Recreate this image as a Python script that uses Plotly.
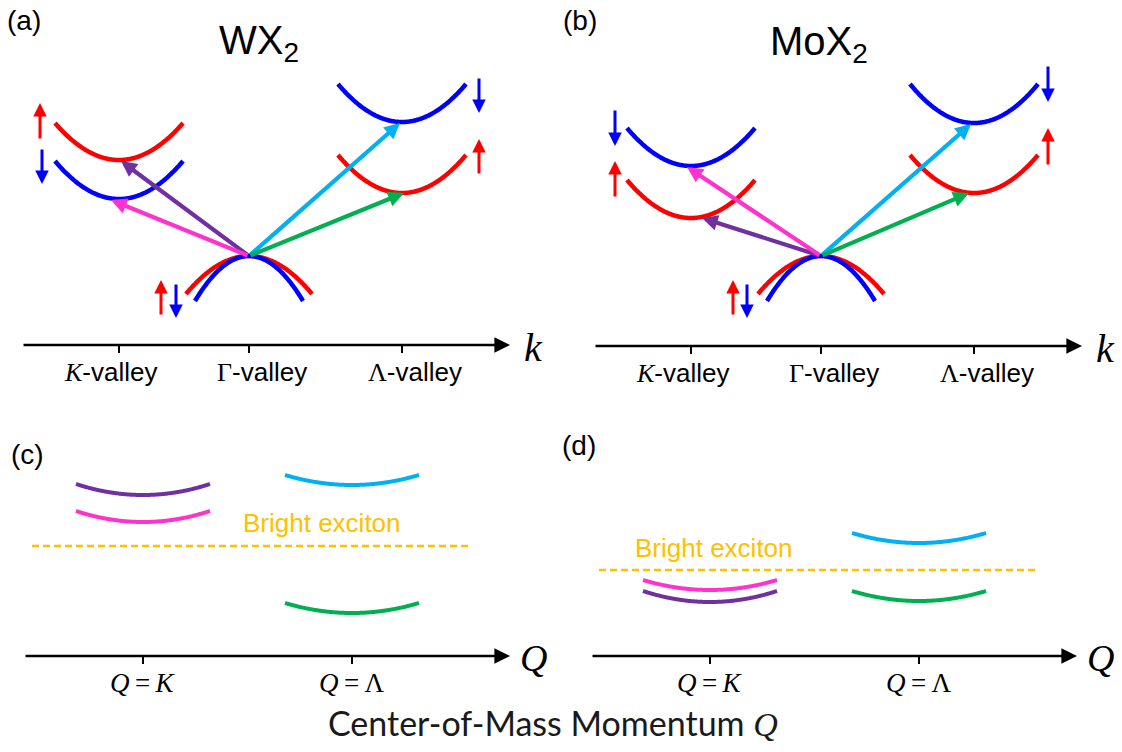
import numpy as np
import plotly.graph_objects as go

W, H = 1122, 752

# ---------------- band-structure panels (a) WX2, (b) MoX2 ----------------
VALLEYS = ["K", "Γ", "Λ"]
VALLEY_K = [-130, 0, 153]          # crystal momentum of the valleys (arb. units)
K_AXIS = [-227, 261]               # extent of the k axis

SPIN_COLOR = {"up": "#FF0000", "down": "#0000FF"}

# conduction bands: valley, spin, band minimum, energy at the window edge
A_COND_VALLEY = ["K", "K", "Λ", "Λ"]
A_COND_SPIN = ["up", "down", "down", "up"]
A_COND_EMIN = [185, 146, 223, 152]
A_COND_EEDGE = [222, 184, 261, 190]

B_COND_VALLEY = ["K", "K", "Λ", "Λ"]
B_COND_SPIN = ["down", "up", "down", "up"]
B_COND_EMIN = [180, 128, 223, 153]
B_COND_EEDGE = [218, 166, 262, 191]
COND_HALF_WIDTH = 64

# valence bands at Γ: spin, top energy, half width, energy at window edge
VAL_SPIN = ["up", "down"]
A_VAL_ETOP = [89, 89]
B_VAL_ETOP = [90, 90]
VAL_HALF_WIDTH = [63, 54]
A_VAL_EEDGE = [51, 44]
B_VAL_EEDGE = [52, 45]

# momentum-indirect transitions from the Γ valence maximum
TRANS_NAMES = ["purple", "magenta", "cyan", "green"]
TRANS_COLOR = ["#7030A0", "#FF33CC", "#00B0F0", "#00B050"]
A_TRANS_K = [-128, -138, 151, 155]
A_TRANS_E = [184, 145, 222, 152]
B_TRANS_K = [-119, -134, 150, 148]
B_TRANS_E = [128, 179, 222, 153]

# spin markers: spin, momentum, tail energy, head energy
A_SPIN_S = ["up", "down", "up", "down", "down", "up"]
A_SPIN_K = [-209, -207, -88, -73, 230, 230]
A_SPIN_E0 = [205, 197, 29, 62, 268, 170]
A_SPIN_E1 = [242, 161, 65, 27, 232, 206]

B_SPIN_S = ["down", "up", "up", "down", "down", "up"]
B_SPIN_K = [-206, -206, -88, -74, 227, 227]
B_SPIN_E0 = [237, 148, 30, 63, 281, 180]
B_SPIN_E1 = [200, 185, 66, 28, 244, 218]

# ---------------- exciton panels (c), (d) ----------------
Q_NAMES = ["K", "Λ"]
Q_POS = [143, 352]
Q_AXIS = [24, 510]
EXC_HALF_WIDTH = 67

EXC_KIND = ["purple", "magenta", "cyan", "green"]
EXC_VALLEY = ["K", "K", "Λ", "Λ"]
C_EXC_EMIN = [161, 134, 171, 43]
C_EXC_EEDGE = [172, 145, 181, 53]
D_EXC_EMIN = [54, 66, 113, 55]
D_EXC_EEDGE = [65, 76, 123, 65]

BRIGHT_SPAN = [32, 468]
C_BRIGHT_E = 110
D_BRIGHT_E = 86

GOLD = "#FFC000"
SANS = "Liberation Sans, Arial, sans-serif"
SERIF = "Liberation Serif, DejaVu Serif, serif"
CAL = "Lato, Open Sans, sans-serif"

fig = go.Figure()


def parabola(center, e0, e_edge, half):
    x = np.linspace(center - half, center + half, 121)
    return x, e0 + (e_edge - e0) * ((x - center) / half) ** 2


def add_line(x, y, color, width, ax, dash=None):
    fig.add_trace(go.Scatter(
        x=x, y=y, mode="lines", xaxis="x" + ax, yaxis="y" + ax,
        line=dict(color=color, width=width, dash=dash, shape="spline"),
        hoverinfo="skip", showlegend=False))


def add_arrow(x0, y0, x1, y1, ax, color, width, size):
    fig.add_annotation(
        x=x1, y=y1, ax=x0, ay=y0, xref="x" + ax, yref="y" + ax,
        axref="x" + ax, ayref="y" + ax, text="", showarrow=True,
        arrowhead=2, arrowsize=size, arrowwidth=width, arrowcolor=color,
        standoff=0, startstandoff=0)


def text(x, y, ax, s, size, family=SANS, color="black", xshift=0, xanchor="center"):
    fig.add_annotation(
        x=x, y=y, xref="x" + ax, yref="y" + ax, text=s, showarrow=False,
        font=dict(size=size, family=family, color=color),
        xanchor=xanchor, yanchor="middle", xshift=xshift)


def band_panel(ax, cond, val, trans, spins, tag, title, tag_pos, title_pos):
    vk = dict(zip(VALLEYS, VALLEY_K))
    # valence bands
    for s, et, hw, ee in zip(VAL_SPIN, val[0], VAL_HALF_WIDTH, val[1]):
        x, y = parabola(vk["Γ"], et, ee, hw)
        add_line(x, y, SPIN_COLOR[s], 4.5, ax)
    # conduction bands
    for v, s, emin, ee in zip(*cond):
        x, y = parabola(vk[v], emin, ee, COND_HALF_WIDTH)
        add_line(x, y, SPIN_COLOR[s], 4.5, ax)
    # k axis with ticks
    add_arrow(K_AXIS[0], 0, K_AXIS[1], 0, ax, "black", 2.5, 1.25)
    for v in VALLEYS:
        add_line([vk[v], vk[v]], [0, -8], "black", 2, ax)
    # spin markers
    for s, k, e0, e1 in zip(*spins):
        add_arrow(k, e0, k, e1, ax, SPIN_COLOR[s], 3, 0.9)
    # transitions
    etop = val[0][0]
    for c, k, e in zip(TRANS_COLOR, trans[0], trans[1]):
        add_arrow(vk["Γ"], etop, k, e, ax, c, 4.2, 0.75)
    # labels
    labels = {
        "K": f'<i><span style="font-family:{SERIF}">K</span></i>-valley',
        "Γ": f'<span style="font-family:{SERIF}">Γ</span>-valley',
        "Λ": f'<span style="font-family:{SERIF}">Λ</span>-valley',
    }
    shifts = {"K": -9, "Γ": 13, "Λ": 13}
    for v in VALLEYS:
        text(vk[v], -27, ax, labels[v], 26, xshift=shifts[v])
    text(K_AXIS[1] + 23, -2, ax, "<i>k</i>", 40, family=SERIF)
    text(tag_pos[0], tag_pos[1], ax, tag, 28)
    text(title_pos[0], title_pos[1], ax, title, 40)


band_panel("", (A_COND_VALLEY, A_COND_SPIN, A_COND_EMIN, A_COND_EEDGE),
           (A_VAL_ETOP, A_VAL_EEDGE), (A_TRANS_K, A_TRANS_E),
           (A_SPIN_S, A_SPIN_K, A_SPIN_E0, A_SPIN_E1),
           "(a)", "WX<sub>2</sub>", (-225, 325), (10, 302))
band_panel("2", (B_COND_VALLEY, B_COND_SPIN, B_COND_EMIN, B_COND_EEDGE),
           (B_VAL_ETOP, B_VAL_EEDGE), (B_TRANS_K, B_TRANS_E),
           (B_SPIN_S, B_SPIN_K, B_SPIN_E0, B_SPIN_E1),
           "(b)", "MoX<sub>2</sub>", (-241, 326), (-2, 302))


def exciton_panel(ax, emin, eedge, bright_e, tag, tag_pos, bright_label_pos):
    qp = dict(zip(Q_NAMES, Q_POS))
    cmap = dict(zip(TRANS_NAMES, TRANS_COLOR))
    for kind, v, e0, e1 in zip(EXC_KIND, EXC_VALLEY, emin, eedge):
        x, y = parabola(qp[v], e0, e1, EXC_HALF_WIDTH)
        add_line(x, y, cmap[kind], 4, ax)
    add_line(BRIGHT_SPAN, [bright_e, bright_e], GOLD, 2.5, ax, dash="7px,4px")
    text(bright_label_pos[0], bright_label_pos[1], ax, "Bright exciton", 26, color=GOLD)
    add_arrow(Q_AXIS[0], 0, Q_AXIS[1], 0, ax, "black", 2.5, 1.25)
    for v in Q_NAMES:
        add_line([qp[v], qp[v]], [0, -8], "black", 2, ax)
        rhs = f"<i>{v}</i>" if v == "K" else v
        text(qp[v], -27, ax, f"<i>Q</i>\u2009=\u2009{rhs}", 27, family=SERIF)
    text(Q_AXIS[1] + 23, -2, ax, "<i>Q</i>", 38, family=SERIF)
    text(tag_pos[0], tag_pos[1], ax, tag, 28)


exciton_panel("3", C_EXC_EMIN, C_EXC_EEDGE, C_BRIGHT_E, "(c)", (27, 201), (322, 133))
exciton_panel("4", D_EXC_EMIN, D_EXC_EEDGE, D_BRIGHT_E, "(d)", (12, 210), (147, 108))

fig.add_annotation(
    x=553 / W, y=1 - 722 / H, xref="paper", yref="paper", showarrow=False,
    text=f'Center-of-Mass Momentum <i><span style="font-family:{SERIF}">Q</span></i>',
    font=dict(size=34, family=CAL, color="#1a1a1a"), xanchor="center", yanchor="middle")

ytop = 1 - 390 / H
ax_style = dict(visible=False, fixedrange=True, showgrid=False, zeroline=False)
fig.update_layout(
    width=W, height=H, margin=dict(l=0, r=0, t=0, b=0),
    paper_bgcolor="white", plot_bgcolor="white", showlegend=False,
    xaxis=dict(domain=[0, 0.5], range=[-249, 312], anchor="y", **ax_style),
    yaxis=dict(domain=[ytop, 1], range=[-45, 345], anchor="x", **ax_style),
    xaxis2=dict(domain=[0.5, 1], range=[-260, 301], anchor="y2", **ax_style),
    yaxis2=dict(domain=[ytop, 1], range=[-44, 346], anchor="x2", **ax_style),
    xaxis3=dict(domain=[0, 0.5], range=[0, 561], anchor="y3", **ax_style),
    yaxis3=dict(domain=[0, ytop], range=[-96, 266], anchor="x3", **ax_style),
    xaxis4=dict(domain=[0.5, 1], range=[-6, 555], anchor="y4", **ax_style),
    yaxis4=dict(domain=[0, ytop], range=[-96, 266], anchor="x4", **ax_style),
)

fig.write_html("out.html")
